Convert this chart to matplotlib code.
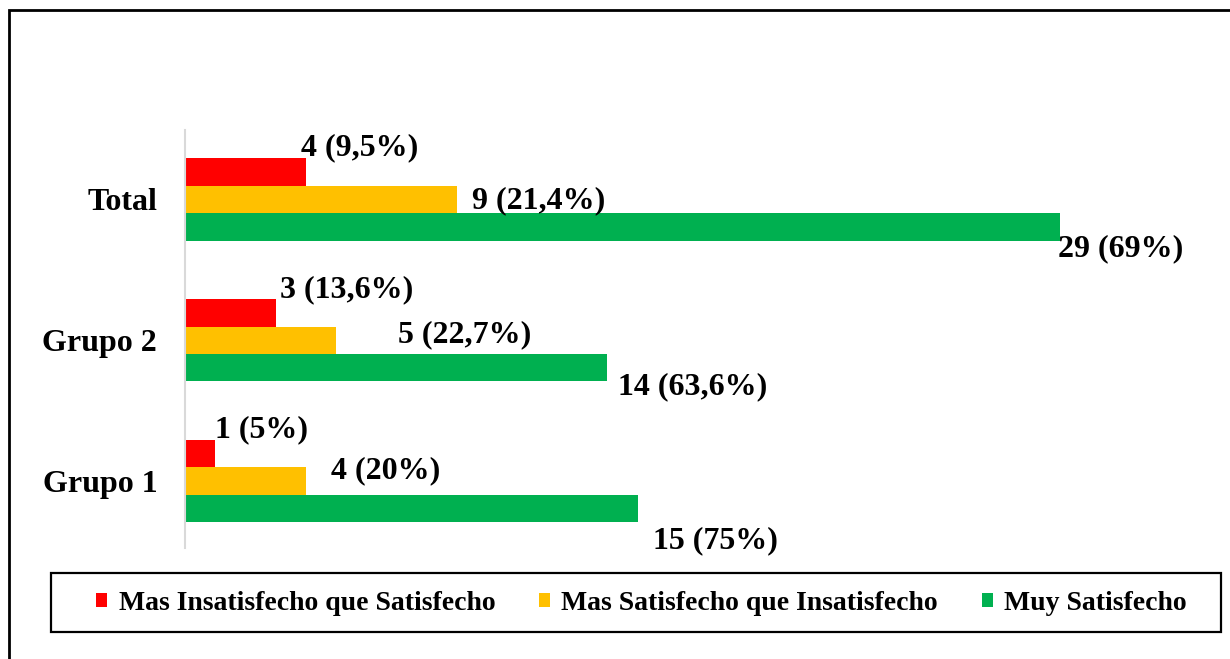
import matplotlib
matplotlib.use("Agg")
import matplotlib.pyplot as plt
from matplotlib.patches import Patch, Rectangle
import numpy as np

# ---- data ----
categories = ["Grupo 1", "Grupo 2", "Total"]
series_names = ["Mas Insatisfecho que Satisfecho",
                "Mas Satisfecho que Insatisfecho",
                "Muy Satisfecho"]
insatisfecho = [1, 3, 4]
satisfecho = [4, 5, 9]
muy_satisfecho = [15, 14, 29]
insatisfecho_pct = ["5%", "13,6%", "9,5%"]
satisfecho_pct = ["20%", "22,7%", "21,4%"]
muy_satisfecho_pct = ["75%", "63,6%", "69%"]

# ---- style ----
colors = ["#FF0000", "#FFC000", "#00B050"]
# label offsets in pixels (dx, dy) from bar end / bar centre, per category
label_offsets = [
    [(0, 24), (4, 23), (-5, 24)],
    [(25, 10), (62, 6), (15, -1.5)],
    [(15, -32), (11, -19), (-2, -22)],
]

plt.rcParams["font.family"] = ["Liberation Serif", "DejaVu Serif"]
plt.rcParams["font.weight"] = "bold"

W, H = 1230, 659
fig = plt.figure(figsize=(W / 100, H / 100), dpi=100)

px_per_unit = 30.17
xmax = 33
left_px, top_px, bottom_px = 185, 130, 548
ax = fig.add_axes([left_px / W, 1 - bottom_px / H,
                   xmax * px_per_unit / W, (bottom_px - top_px) / H])

y = np.arange(len(categories))
h = 0.195
values = [insatisfecho, satisfecho, muy_satisfecho]
pcts = [insatisfecho_pct, satisfecho_pct, muy_satisfecho_pct]
shifts = [h, 0, -h]

for s in range(3):
    ypos = y + shifts[s]
    ax.barh(ypos, values[s], height=h, color=colors[s], label=series_names[s])
    for i in range(len(categories)):
        dx, dy = label_offsets[s][i]
        ax.annotate(f"{values[s][i]} ({pcts[s][i]})", xy=(values[s][i], ypos[i]),
                    xytext=(dx, dy), textcoords="offset pixels",
                    ha="left", va="center", fontsize=23, fontweight="bold",
                    color="black", annotation_clip=False)

ax.set_xlim(0, xmax)
ax.set_ylim(-0.475, 2.493)
ax.set_yticks(y)
ax.set_yticklabels(categories, fontsize=23, fontweight="bold")
ax.tick_params(axis="y", length=0, pad=20)
ax.set_xticks([])
for sp in ["top", "right", "bottom"]:
    ax.spines[sp].set_visible(False)
ax.spines["left"].set_color("#d9d9d9")
ax.spines["left"].set_linewidth(1.5)

# legend box
lx0, ly0, lx1, ly1 = 51, 573, 1221, 632
fig.patches.append(Rectangle((lx0 / W, 1 - ly1 / H), (lx1 - lx0) / W, (ly1 - ly0) / H,
                             transform=fig.transFigure, fill=False,
                             edgecolor="black", linewidth=1.6))
handles = [Patch(facecolor=c, edgecolor="none") for c in colors]
leg = fig.legend(handles, series_names, ncol=3, loc="center",
                 bbox_to_anchor=(641.5 / W, 1 - 603 / H),
                 borderaxespad=0, borderpad=0,
                 prop={"weight": "bold", "size": 20},
                 handlelength=0.4, handleheight=0.4, handletextpad=0.4,
                 columnspacing=1.58, frameon=False)

# outer border
fig.patches.append(Rectangle((9 / W, -0.1), 1.2, 1 - 10 / H + 0.1,
                             transform=fig.transFigure, fill=False,
                             edgecolor="black", linewidth=2, clip_on=False))

fig.savefig("out.png", dpi=100)
